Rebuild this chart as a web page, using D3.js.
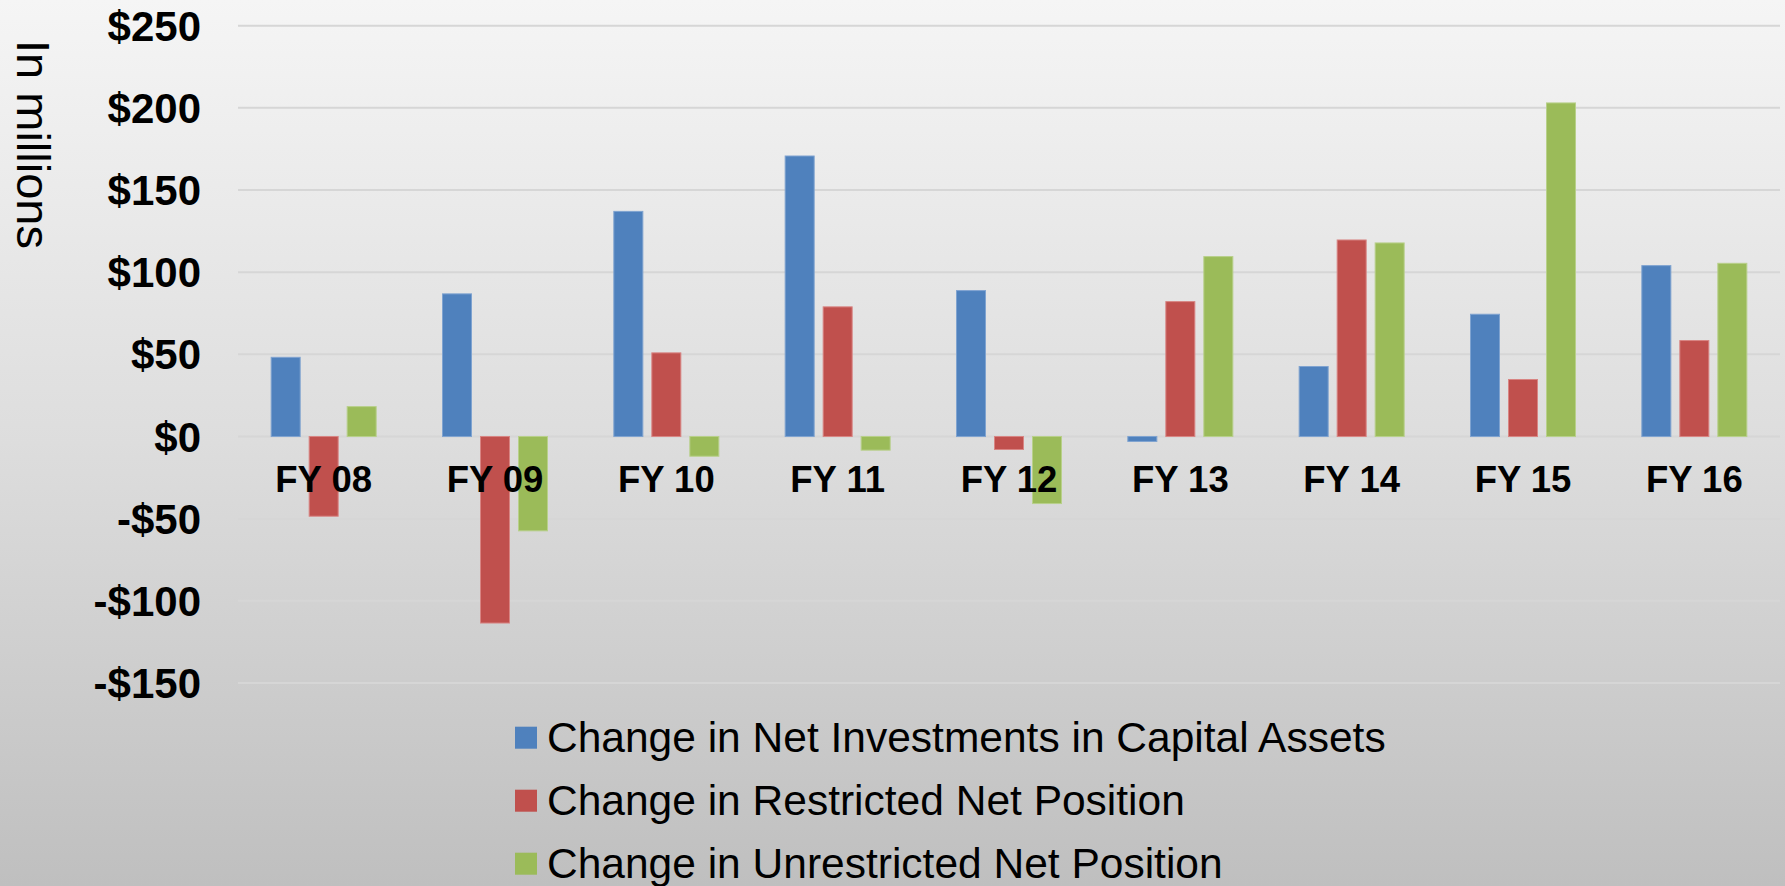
<!DOCTYPE html>
<html>
<head>
<meta charset="utf-8">
<script src="https://cdn.jsdelivr.net/npm/d3@7"></script>
<style>
  html, body { margin: 0; padding: 0; overflow: hidden; }
  svg { display: block; font-family: "Liberation Sans", Arial, sans-serif; }
</style>
</head>
<body>
<script>
const width = 1785;
const height = 886;

const years = ['FY 08', 'FY 09', 'FY 10', 'FY 11', 'FY 12', 'FY 13', 'FY 14', 'FY 15', 'FY 16'];
const seriesNames = [
    'Change in Net Investments in Capital Assets',
    'Change in Restricted Net Position',
    'Change in Unrestricted Net Position'
];
const capitalAssets = [48.2, 86.8, 137, 170.7, 88.8, -3, 42.6, 74.4, 104];
const restricted = [-48.5, -113.5, 50.9, 78.9, -7.9, 82.1, 119.6, 34.7, 58.4];
const unrestricted = [18.2, -57.4, -12, -8.3, -40.8, 109.5, 117.8, 203, 105.4];
const yTicks = [-150, -100, -50, 0, 50, 100, 150, 200, 250];
const colors = ['#4f81bd', '#c0504d', '#9bbb59'];
const strokes = ['#7fa3d0', '#d88583', '#b8d08a'];

const allSeries = [capitalAssets, restricted, unrestricted];

const plot = { left: 238, right: 1780, top: 25.7, bottom: 683 };

const svg = d3.select('body')
    .append('svg')
    .attr('width', width)
    .attr('height', height);

// background gradient
const grad = svg.append('defs').append('linearGradient')
    .attr('id', 'bg')
    .attr('x1', 0).attr('y1', 0).attr('x2', 0).attr('y2', 1);
grad.append('stop').attr('offset', '0%').attr('stop-color', '#f5f5f5');
grad.append('stop').attr('offset', '50%').attr('stop-color', '#dddddd');
grad.append('stop').attr('offset', '100%').attr('stop-color', '#bfbfbf');

svg.append('rect')
    .attr('width', width)
    .attr('height', height)
    .attr('fill', 'url(#bg)');

const y = d3.scaleLinear()
    .domain([-150, 250])
    .range([plot.bottom, plot.top]);

const x = d3.scaleBand()
    .domain(years)
    .range([plot.left, plot.right]);

// bar slots inside each category: 30px bars, 38px pitch
const barW = 30;
const pitch = 38;
const xs = d3.scaleBand()
    .domain(d3.range(3))
    .range([x.bandwidth() / 2 - (pitch * 3 - (pitch - barW)) / 2, x.bandwidth() / 2 + (pitch * 3 - (pitch - barW)) / 2 + (pitch - barW)])
    .paddingInner(0)
    .paddingOuter(0);

// gridlines
svg.append('g')
    .selectAll('line')
    .data(yTicks)
    .join('line')
    .attr('x1', plot.left)
    .attr('x2', plot.right)
    .attr('y1', d => y(d))
    .attr('y2', d => y(d))
    .attr('stroke', '#d6d6d6')
    .attr('stroke-width', 2);

// y tick labels
svg.append('g')
    .selectAll('text')
    .data(yTicks)
    .join('text')
    .attr('x', 201)
    .attr('y', d => y(d))
    .attr('dy', '0.36em')
    .attr('text-anchor', 'end')
    .attr('font-size', 42)
    .attr('font-weight', 'bold')
    .attr('fill', '#000')
    .text(d => (d < 0 ? '-$' : '$') + Math.abs(d));

// axis title
svg.append('text')
    .attr('transform', 'translate(17,40) rotate(90)')
    .attr('font-size', 47)
    .attr('fill', '#000')
    .text('In millions');

// bars
allSeries.forEach((vals, s) => {
    svg.append('g')
        .selectAll('rect')
        .data(vals)
        .join('rect')
        .attr('x', (d, i) => x(years[i]) + xs(s) + 0.5)
        .attr('y', d => y(Math.max(0, d)))
        .attr('width', barW - 1)
        .attr('height', d => Math.abs(y(d) - y(0)))
        .attr('fill', colors[s])
        .attr('stroke', strokes[s])
        .attr('stroke-width', 1);
});

// category labels
svg.append('g')
    .selectAll('text')
    .data(years)
    .join('text')
    .attr('x', d => x(d) + x.bandwidth() / 2)
    .attr('y', 492)
    .attr('text-anchor', 'middle')
    .attr('font-size', 36.5)
    .attr('font-weight', 'bold')
    .attr('fill', '#000')
    .text(d => d);

// legend
const legend = svg.append('g')
    .selectAll('g')
    .data(seriesNames)
    .join('g')
    .attr('transform', (d, i) => `translate(515,${726.7 + i * 63})`);

legend.append('rect')
    .attr('width', 22)
    .attr('height', 22)
    .attr('fill', (d, i) => colors[i]);

legend.append('text')
    .attr('x', 32)
    .attr('y', 25)
    .attr('font-size', 42.5)
    .attr('fill', '#000')
    .text(d => d);
</script>
</body>
</html>
